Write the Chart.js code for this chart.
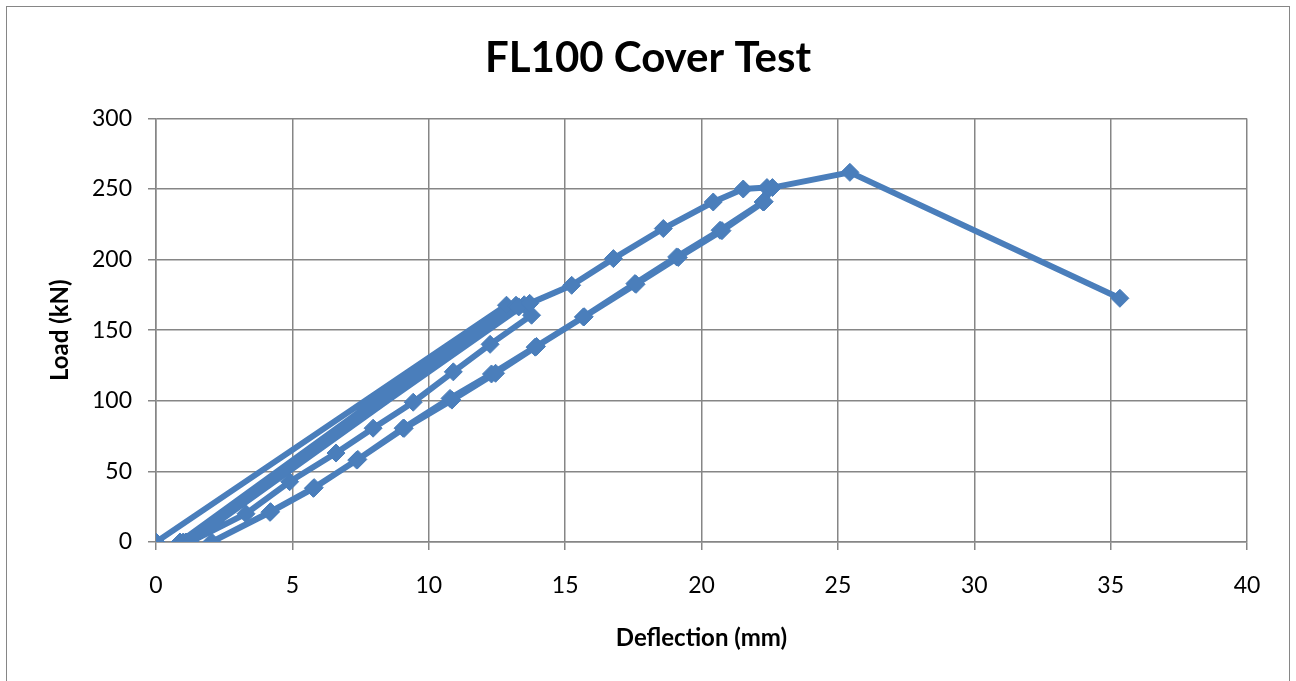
<!DOCTYPE html>
<html>
<head>
<meta charset="utf-8">
<title>FL100 Cover Test</title>
<script src="https://cdn.jsdelivr.net/npm/chart.js@4"></script>
<style>
  body { margin: 0; background: #fff; }
  #wrap { width: 1296px; height: 681px; }
</style>
</head>
<body>
<div id="wrap"><canvas id="grafico" width="1296" height="681"></canvas></div>
<script>
// deflection (mm) and load (kN), in test order (load / unload cycles)
var deflexion = [0, 12.85, 0.88, 13.2, 1.0, 13.5, 1.1, 13.3, 1.25, 3.3, 4.9, 6.6, 7.96, 9.43, 10.9, 12.25, 13.77, 13.7,
    15.24, 16.77, 18.6, 20.43, 21.53, 22.4, 22.26, 20.68, 19.09, 17.56, 15.67, 13.9, 12.3, 10.78,
    9.06, 7.36, 5.77, 4.18, 2.04, 4.2, 5.8, 7.4, 9.1, 10.85, 12.45, 13.95, 15.7, 17.6, 19.15,
    20.75, 22.3, 22.6, 25.44, 35.34];
var carga = [0, 167.7, 0, 167.7, 0, 168, 0, 166.5, 0, 20, 42.7, 63, 80.6, 99, 120.5, 140, 160.6, 169,
    181.8, 200.7, 222, 240.8, 250, 251, 240.8, 220.8, 201.9, 183, 159.4, 138, 119, 101.7,
    80.6, 58, 38, 21, 0, 21.5, 38.5, 58.5, 80.5, 100.5, 119.5, 138.5, 159.5, 182.5, 201.5,
    220.5, 241, 251, 261.8, 172.6];
var ticks_x = [0, 5, 10, 15, 20, 25, 30, 35, 40];
var ticks_y = [0, 50, 100, 150, 200, 250, 300];

var AZUL = '#4a7ebb';
var GRIS = '#868686';
var FUENTE = 'Lato, "Open Sans", sans-serif';

function puntos(){
    var p = [];
    for (var i = 0; i < deflexion.length; i++) {
        p.push({x: deflexion[i], y: carga[i]});
    }
    return p;
}

var marco = {
    id: 'marco',
    beforeDraw: function(chart){
        var ctx = chart.ctx;
        ctx.save();
        ctx.fillStyle = '#fff';
        ctx.fillRect(0, 0, chart.width, chart.height);
        ctx.strokeStyle = GRIS;
        ctx.lineWidth = 1;
        ctx.strokeRect(6.5, 6.5, 1283, 690);
        ctx.restore();
    }
};

var grafico = new Chart(document.getElementById('grafico'), {
    type: 'scatter',
    data: {
        datasets: [{
            label: 'FL100',
            data: puntos(),
            showLine: true,
            borderColor: AZUL,
            backgroundColor: AZUL,
            borderWidth: 6,
            pointStyle: 'rectRot',
            pointRadius: 9,
            pointBorderWidth: 1,
            tension: 0
        }]
    },
    options: {
        responsive: false,
        animation: false,
        devicePixelRatio: 1,
        layout: { padding: 0 },
        plugins: {
            legend: { display: false },
            tooltip: { enabled: false },
            title: {
                display: true,
                text: 'FL100 Cover Test',
                color: '#000',
                font: { family: FUENTE, size: 42, weight: 'bold' },
                padding: { top: 33, bottom: 35 }
            }
        },
        scales: {
            x: {
                type: 'linear',
                min: 0, max: 40,
                afterBuildTicks: function(s){ s.ticks = ticks_x.map(function(v){ return {value: v}; }); },
                afterFit: function(s){ s.height = 681 - 542; },
                grid: { color: GRIS, lineWidth: 1.5, tickLength: 8 },
                border: { color: GRIS, width: 1.5 },
                ticks: { color: '#000', font: { family: FUENTE, size: 23 }, padding: 22, maxRotation: 0 },
                title: {
                    display: true, text: 'Deflection (mm)', color: '#000',
                    font: { family: FUENTE, size: 24, weight: 'bold' },
                    padding: { top: 0, bottom: 28 }
                }
            },
            y: {
                type: 'linear',
                min: 0, max: 300,
                afterBuildTicks: function(s){ s.ticks = ticks_y.map(function(v){ return {value: v}; }); },
                afterFit: function(s){ s.width = 156; },
                grid: { color: GRIS, lineWidth: 1.5, tickLength: 8 },
                border: { color: GRIS, width: 1.5 },
                ticks: { color: '#000', font: { family: FUENTE, size: 23 }, padding: 16 },
                title: {
                    display: true, text: 'Load (kN)', color: '#000',
                    font: { family: FUENTE, size: 24, weight: 'bold' },
                    padding: { top: 46, bottom: 0 }
                }
            },
            margen: {
                // empty right-hand space so the plot ends at x = 1247
                type: 'linear',
                position: 'right',
                display: true,
                grid: { display: false, drawTicks: false },
                border: { display: false },
                ticks: { display: false },
                afterFit: function(s){ s.width = 49; }
            }
        }
    },
    plugins: [marco]
});
</script>
</body>
</html>
